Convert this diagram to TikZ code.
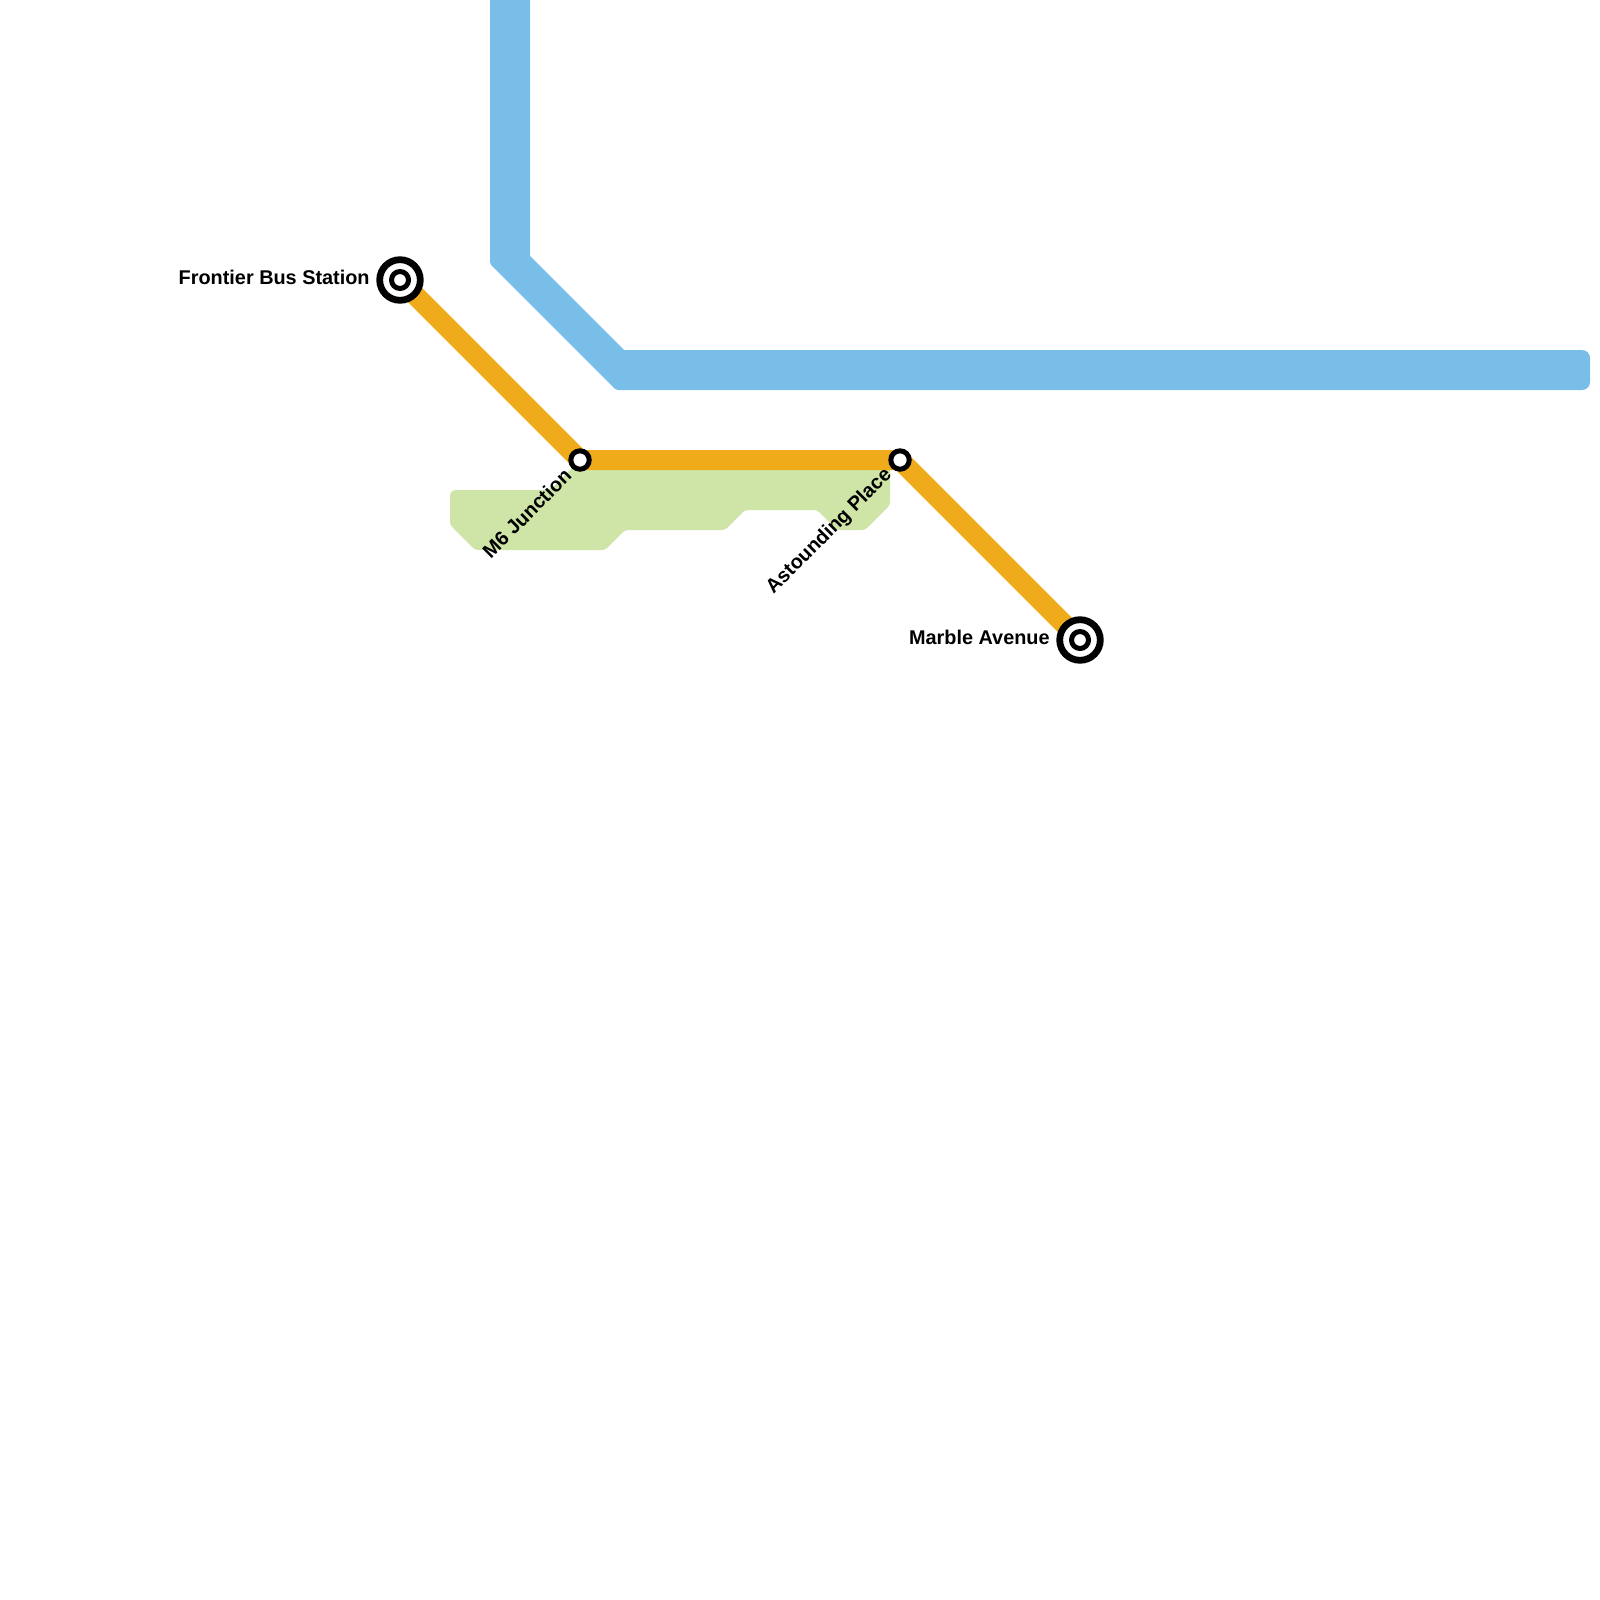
\documentclass[tikz,border=0pt]{standalone}
\usepackage{fontspec}
\setmainfont{Liberation Sans}
\usetikzlibrary{backgrounds}
\definecolor{lineblue}{HTML}{79BDE9}
\definecolor{lineorange}{HTML}{F0AB1A}
\definecolor{parkgreen}{HTML}{CFE4A7}
\begin{document}
\begin{tikzpicture}[x=.5pt,y=-.5pt,font=\bfseries\fontsize{9.93}{12}\selectfont,
 terminus/.style={circle,draw=black,line width=3.4pt,fill=white,minimum size=20.3pt,inner sep=0pt},
 core/.style={circle,draw=black,line width=2.5pt,fill=white,minimum size=8.5pt,inner sep=0pt},
 hub/.style={circle,draw=black,line width=2.5pt,fill=white,minimum size=9.2pt,inner sep=0pt},
 route/.style={line width=10pt,draw=lineorange},
 lab/.style={text=black,inner sep=0pt}]
\useasboundingbox (0,0) rectangle (1600,1600);
\node[terminus] (frontier) at (400,280) {};
\node[core] (frontiercore) at (frontier) {};
\node[hub] (m6) at (580,460) {};
\node[hub] (astounding) at (900,460) {};
\node[terminus] (marble) at (1080,640) {};
\node[core] (marblecore) at (marble) {};
% labels
\node[lab,anchor=east] (frontierlab) at (370,277.5) {Frontier Bus Station};
\node[lab,anchor=east] (marblelab) at (1050,637.5) {Marble Avenue};
\node[lab,anchor=east,rotate=45] (m6lab) at (568,472) {M6 Junction};
\node[lab,anchor=east,rotate=45] (astoundinglab) at (889,472) {Astounding Place};
\begin{pgfonlayer}{background}
% park
\fill[parkgreen,rounded corners=1.5pt] (450,525)[rounded corners=3pt]--(450,490)--(550,490)[rounded corners=1.5pt]--(580,460)--(890,460)--(890,505)--(865,530)--(837,530)--(817,510)--(745,510)--(725,530)--(625,530)--(605,550)--(475,550)--cycle;
% blue line
\fill[lineblue] (490,-10)[rounded corners=1pt]--(490,264)--(616,390)[rounded corners=4pt]--(1590,390)--(1590,350)[sharp corners]--(624,350)--(530,256)--(530,-10)--cycle;
\draw[route] (frontier.center)--(m6.center)--(astounding.center)--(marble.center);
\end{pgfonlayer}
\end{tikzpicture}
\end{document}
